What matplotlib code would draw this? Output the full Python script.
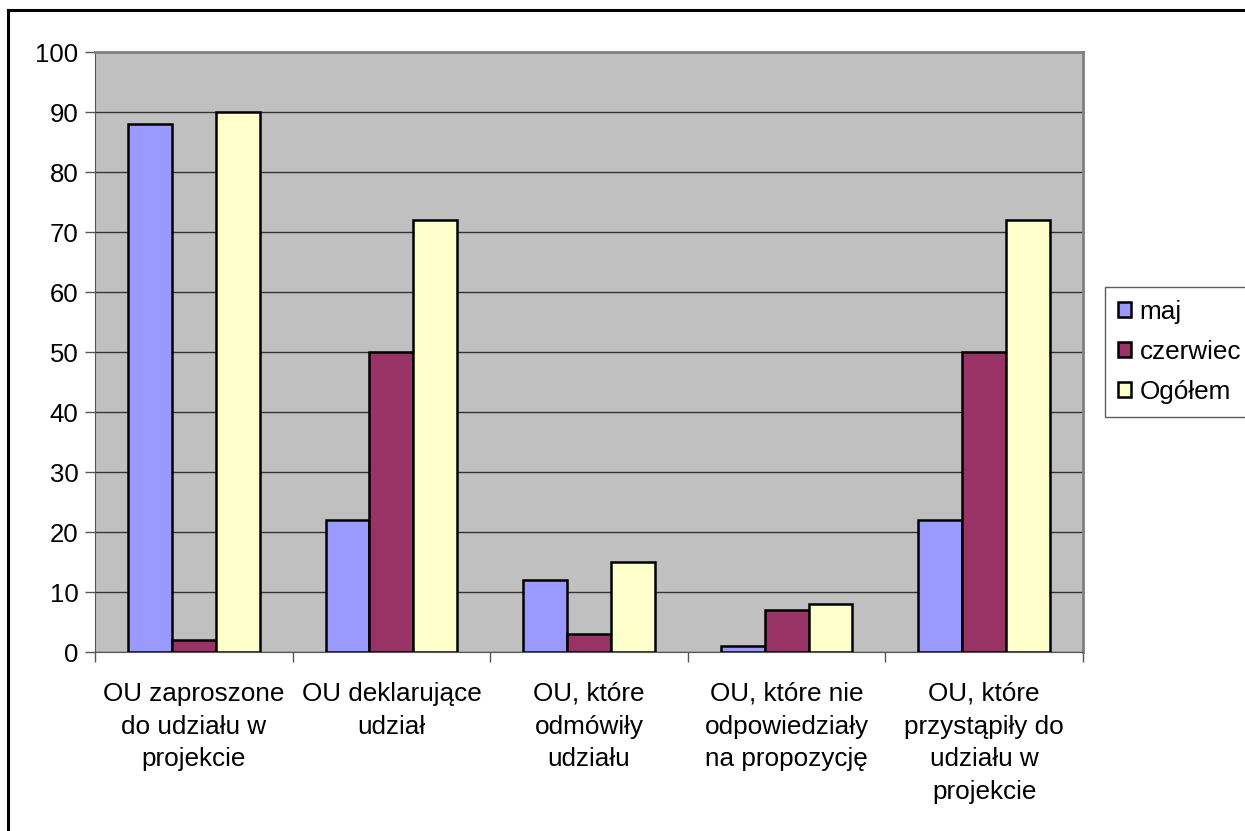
import matplotlib.pyplot as plt
import numpy as np

plt.rcParams['font.family'] = ['Liberation Sans', 'DejaVu Sans']

# Data
categories = [
    "OU zaproszone\ndo udziału w\nprojekcie",
    "OU deklarujące\nudział",
    "OU, które\nodmówiły\nudziału",
    "OU, które nie\nodpowiedziały\nna propozycję",
    "OU, które\nprzystąpiły do\nudziału w\nprojekcie",
]
series_names = ["maj", "czerwiec", "Ogółem"]
maj = [88, 22, 12, 1, 22]
czerwiec = [2, 50, 3, 7, 50]
ogolem = [90, 72, 15, 8, 72]
colors = ["#9999FF", "#993366", "#FFFFCC"]

fig = plt.figure(figsize=(12.45, 8.31), dpi=100)
ax = fig.add_axes([95 / 1245, 1 - 652 / 831, (1083 - 95) / 1245, 600 / 831])

# outer chart border (left and top visible)
fig.add_artist(plt.Line2D([8 / 1245, 8 / 1245], [0, 1 - 10 / 831], transform=fig.transFigure,
                          color='black', lw=2.2))
fig.add_artist(plt.Line2D([8 / 1245, 1], [1 - 10 / 831, 1 - 10 / 831], transform=fig.transFigure,
                          color='black', lw=2.2))

x = np.arange(len(categories))
w = 0.222
for i, (vals, name) in enumerate(zip([maj, czerwiec, ogolem], series_names)):
    ax.bar(x + (i - 1) * w, vals, width=w, color=colors[i], edgecolor='black',
           linewidth=1.8, label=name, zorder=3)

ax.set_facecolor('#C0C0C0')
ax.set_xlim(-0.5, len(categories) - 0.5)
ax.set_ylim(0, 100)
ax.set_yticks(range(0, 101, 10))
ax.yaxis.grid(True, color='#333333', linewidth=1.0, zorder=0)
ax.set_axisbelow(True)
ax.tick_params(axis='y', labelsize=18.5, length=7, width=1, color='#555555', pad=5)

ax.set_xticks(np.arange(-0.5, len(categories), 1))
ax.set_xticklabels([])
ax.tick_params(axis='x', length=7, width=1, color='#555555')
for xi, lab in zip(x, categories):
    ax.text(xi, -5.0, lab, ha='center', va='top', fontsize=18.8, linespacing=1.45)

for side in ['top', 'right']:
    ax.spines[side].set_color('#808080')
    ax.spines[side].set_linewidth(2)
ax.spines['left'].set_color('#555555')
ax.spines['bottom'].set_color('#555555')

leg = ax.legend(loc='center left', bbox_to_anchor=(1105 / 1245, 1 - 352 / 831),
                bbox_transform=fig.transFigure, fontsize=18.8, frameon=True,
                fancybox=False, edgecolor='#333333', handlelength=0.5, handleheight=0.5,
                handletextpad=0.35, labelspacing=0.62, borderpad=0.48, borderaxespad=0)
leg.get_frame().set_linewidth(1.0)
for h in leg.legend_handles:
    h.set_linewidth(1.8)

fig.savefig('out.png', dpi=100)
